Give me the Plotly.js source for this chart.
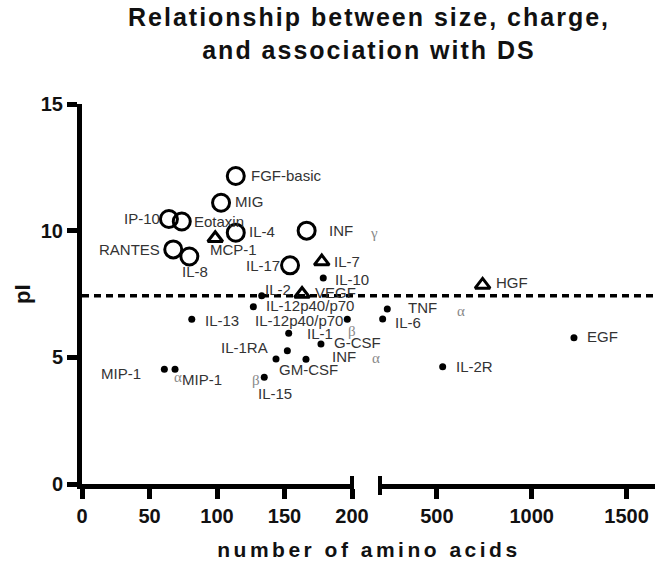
<!DOCTYPE html>
<html><head><meta charset="utf-8">
<script src="https://cdn.plot.ly/plotly-3.0.1.min.js"></script>
<style>
body{margin:0;background:#fff}
#chart{width:666px;height:573px}
.annotation[data-index="0"] .annotation-text{letter-spacing:3.5px}
.annotation[data-index="2"] .annotation-text{letter-spacing:2px}
</style></head><body><div id="chart"></div>
<script>
// ---- data ----
const names = ['FGF-basic','MIG','IP-10','Eotaxin','IL-4','INF','RANTES','IL-8','IL-17',
  'MCP-1','IL-7','VEGF','HGF',
  'IL-10','IL-2','IL-12p40/p70','IL-12p40/p70','IL-13','IL-1','IL-1RA','G-CSF','INF','GM-CSF','IL-15',
  'MIP-1','MIP-1','TNF','IL-6','EGF','IL-2R'];
const aminoAcids = [113.9,103.0,64.4,73.9,113.9,166.4,67.6,79.5,154.1,
  98.7,177.6,163.0,741,
  178.7,133.1,126.9,196.5,81.3,153.1,152.1,177.0,165.9,143.7,135.0,
  61.0,68.9,238.5,214,1222.7,530.5];
const pI = [12.16,11.1,10.46,10.36,9.92,10.0,9.26,8.98,8.63,
  9.7,8.78,7.5,7.86,
  8.13,7.43,7.0,6.5,6.5,5.95,5.26,5.53,4.92,4.93,4.21,
  4.53,4.53,6.91,6.51,5.77,4.63];
const markerClass = ['circle','circle','circle','circle','circle','circle','circle','circle','circle',
  'triangle','triangle','triangle','triangle',
  'dot','dot','dot','dot','dot','dot','dot','dot','dot','dot','dot',
  'dot','dot','dot','dot','dot','dot'];
const greek = ['','','','','','γ','','','',
  '','','','',
  '','','','','','β','','','α','','β',
  'α','','α','','',''];
const threshold = 7.43;
const xTicksLeft = [0,50,100,150,200];
const xTicksRight = [500,1000,1500];
const yTicks = [0,5,10,15];
const chartTitle = 'Relationship between size, charge,<br>and association with DS';
const xTitle = 'number of amino acids';
const yTitle = 'pI';

// ---- label placement (anchor, dx px, dy px up) ----
const labelPlace = [['left',13,0],['left',12,1],['right',-7,1],['left',10,0],['left',11,1],['left',20,0],['right',-11,0],['center',6,-15],['right',-8,0],
  ['left',-7,-11],['left',10,0],['left',11,2],['left',11,2],
  ['left',10,-1],['left',1,6],['left',11,1],['right',-2,-1],['left',11,-1],['left',16,0],['right',-17,3],['left',11,1],['left',24,3],['left',1,-10],['left',-8,-16],
  ['right',-21,-4],['left',5,-10],['left',19,1],['left',10,-3],['left',11,1],['left',11,0]];
const greekPlace = {5:[67,-2],18:[63,2],21:[70,1],23:[-8,-3],24:[14,-8],26:[74,-2]};

const BREAK = 200;
const traces = [];
const styles = {
  circle:{symbol:'circle-open',size:17,line:{width:3,color:'#000'},color:'#000'},
  triangle:{symbol:'triangle-up-open',size:13,line:{width:3,color:'#000'},color:'#000'},
  dot:{symbol:'circle',size:7,color:'#000',line:{width:0}}
};
['circle','triangle','dot'].forEach(cls=>{
  [['x','y',i=>aminoAcids[i]<=BREAK],['x2','y',i=>aminoAcids[i]>BREAK]].forEach(([xa,ya,f])=>{
    const idx = names.map((_,i)=>i).filter(i=>markerClass[i]===cls && f(i));
    if(!idx.length) return;
    traces.push({type:'scatter',mode:'markers',x:idx.map(i=>aminoAcids[i]),y:idx.map(i=>pI[i]),
      xaxis:xa,yaxis:ya,marker:styles[cls],hoverinfo:'skip',cliponaxis:false});
  });
});

const FONT = 'Liberation Sans, Arial, sans-serif';
const annotations = [
  {text:xTitle,xref:'paper',yref:'paper',x:0.5,y:0,xanchor:'center',yanchor:'middle',yshift:-65,showarrow:false,
   font:{family:FONT,size:21,color:'#111',weight:'bold'}},
  {text:yTitle,xref:'paper',yref:'paper',x:0,y:0.5,xanchor:'center',yanchor:'middle',xshift:-60,textangle:-90,showarrow:false,
   font:{family:FONT,size:22,color:'#111',weight:'bold'}},
  {text:chartTitle,xref:'paper',yref:'paper',x:0.5,y:1,xanchor:'center',yanchor:'bottom',yshift:38,showarrow:false,align:'center',
   font:{family:FONT,size:25,color:'#111',weight:'bold'}}
];
names.forEach((n,i)=>{
  const xr = aminoAcids[i]<=BREAK?'x':'x2';
  const p = labelPlace[i];
  annotations.push({text:n,x:aminoAcids[i],y:pI[i],xref:xr,yref:'y',xanchor:p[0],yanchor:'middle',
    xshift:p[1],yshift:p[2],showarrow:false,font:{family:FONT,size:15,color:'#333'}});
  if(greek[i]){
    const g = greekPlace[i];
    annotations.push({text:greek[i],x:aminoAcids[i],y:pI[i],xref:xr,yref:'y',xanchor:'center',yanchor:'middle',
      xshift:g[0],yshift:g[1],showarrow:false,font:{family:'Liberation Serif, Times New Roman, serif',size:15,color:'#888'}});
  }
});

const axBase = {showline:true,linewidth:5,linecolor:'#000',ticks:'outside',ticklen:10,tickwidth:5,tickcolor:'#000',
  showgrid:false,zeroline:false,tickfont:{family:FONT,size:20,color:'#111',weight:'bold'},fixedrange:true};

const layout = {
  width:666,height:573,
  margin:{l:82,r:11,t:104,b:89},
  paper_bgcolor:'#fff',plot_bgcolor:'#fff',
  showlegend:false,
  xaxis:Object.assign({},axBase,{domain:[0,270/573],range:[0,200],tickvals:xTicksLeft,ticktext:xTicksLeft.map(String),anchor:'y'}),
  xaxis2:Object.assign({},axBase,{domain:[298/573,1],range:[200,1650],tickvals:xTicksRight,ticktext:xTicksRight.map(String),anchor:'y'}),
  yaxis:Object.assign({},axBase,{domain:[0,1],range:[0,15],tickvals:yTicks,ticktext:yTicks.map(String),anchor:'x'}),
  shapes:[
    {type:'line',xref:'paper',yref:'y',x0:0,x1:1,y0:threshold,y1:threshold,layer:'below',line:{color:'#000',width:3.5,dash:'7px,5px'}},
    {type:'line',xref:'paper',yref:'paper',x0:270/573,x1:270/573,y0:0.021,y1:-0.029,line:{color:'#000',width:4}},
    {type:'line',xref:'paper',yref:'paper',x0:298/573,x1:298/573,y0:0.021,y1:-0.029,line:{color:'#000',width:4}}
  ],
  annotations:annotations
};
Plotly.newPlot('chart',traces,layout,{displayModeBar:false,staticPlot:true});
</script></body></html>
